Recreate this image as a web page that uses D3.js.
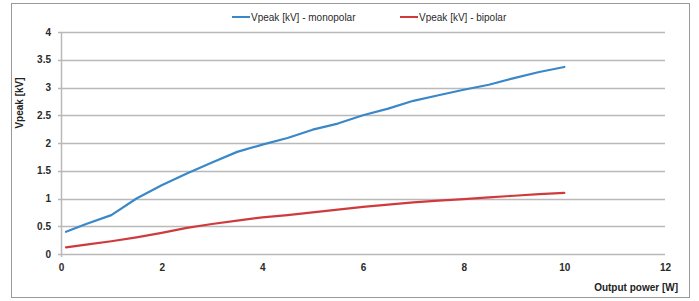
<!DOCTYPE html>
<html><head><meta charset="utf-8">
<script src="https://cdn.jsdelivr.net/npm/d3@7"></script>
<style>body{margin:0;background:#fff}svg{display:block}text{font-family:"Liberation Sans",Arial,sans-serif}</style>
</head><body><svg id="c" width="699" height="301"></svg>
<script>
const power = [0.1, 0.5, 1, 1.5, 2, 2.5, 3, 3.5, 4, 4.5, 5, 5.5, 6, 6.5, 7, 7.5, 8, 8.5, 9, 9.5, 10];
const monopolar = [0.40, 0.54, 0.70, 1.00, 1.24, 1.45, 1.65, 1.84, 1.97, 2.09, 2.24, 2.35, 2.50, 2.62, 2.76, 2.86, 2.96, 3.05, 3.17, 3.28, 3.37];
const bipolar = [0.12, 0.17, 0.23, 0.30, 0.38, 0.47, 0.54, 0.60, 0.66, 0.70, 0.75, 0.80, 0.85, 0.89, 0.93, 0.96, 0.99, 1.02, 1.05, 1.08, 1.10];
const xTicks = [0, 2, 4, 6, 8, 10, 12];
const yTicks = [0, 0.5, 1, 1.5, 2, 2.5, 3, 3.5, 4];
const seriesNames = ["Vpeak [kV] - monopolar", "Vpeak [kV] - bipolar"];
const colors = ["#3b88c9", "#cf3b3d"];

const svg = d3.select("#c");
const x = d3.scaleLinear().domain([0, 12]).range([61, 665]);
const y = d3.scaleLinear().domain([0, 4]).range([254, 32]);

svg.append("rect").attr("x", 11.5).attr("y", 3.5).attr("width", 678).attr("height", 294)
  .attr("fill", "#fff").attr("stroke", "#9a9a9a").attr("stroke-width", 1);

// grid
svg.append("g").selectAll("line").data(yTicks).join("line")
  .attr("x1", x(0) - 3).attr("x2", x(12))
  .attr("y1", d => Math.round(y(d)) + 0.5).attr("y2", d => Math.round(y(d)) + 0.5)
  .attr("stroke", "#b9b9b9").attr("stroke-width", 1.5);
svg.append("line").attr("x1", x(0) + 0.5).attr("x2", x(0) + 0.5).attr("y1", y(4)).attr("y2", y(0) + 3)
  .attr("stroke", "#b9b9b9").attr("stroke-width", 1.5);

// y axis
const ya = svg.append("g").attr("transform", `translate(${x(0)},0)`)
  .call(d3.axisLeft(y).tickValues(yTicks).tickSize(0).tickPadding(10).tickFormat(d3.format("")));
ya.select(".domain").remove();
ya.selectAll("text").attr("font-size", 10).attr("font-weight", "bold").attr("fill", "#2a2a2a").style("font-family", "Liberation Sans, Arial, sans-serif");

// x axis
const xa = svg.append("g").attr("transform", `translate(0,${y(0)})`)
  .call(d3.axisBottom(x).tickValues(xTicks).tickSize(0).tickPadding(10).tickFormat(d3.format("")));
xa.select(".domain").remove();
xa.selectAll("text").attr("font-size", 10).attr("font-weight", "bold").attr("fill", "#2a2a2a").style("font-family", "Liberation Sans, Arial, sans-serif");

// labels
svg.append("text").attr("transform", "translate(23,103) rotate(-90)").attr("text-anchor", "middle")
  .attr("font-size", 10).attr("font-weight", "bold").attr("fill", "#222").text("Vpeak [kV]");
svg.append("text").attr("x", 678).attr("y", 291).attr("text-anchor", "end")
  .attr("font-size", 10).attr("font-weight", "bold").attr("fill", "#222").text("Output power [W]");

// lines
const line = d3.line().x(d => x(d[0])).y(d => y(d[1])).curve(d3.curveLinear);
[monopolar, bipolar].forEach((s, i) => {
  svg.append("path").datum(power.map((p, j) => [p, s[j]]))
    .attr("d", line).attr("fill", "none").attr("stroke", colors[i]).attr("stroke-width", 2.2)
    .attr("stroke-linejoin", "round").attr("stroke-linecap", "round");
});

// legend
const legX = [232, 400];
seriesNames.forEach((n, i) => {
  svg.append("line").attr("x1", legX[i]).attr("x2", legX[i] + 18).attr("y1", 17).attr("y2", 17)
    .attr("stroke", colors[i]).attr("stroke-width", 2);
  svg.append("text").attr("x", legX[i] + 19).attr("y", 20.5).attr("font-size", 10)
    .attr("fill", "#2a2a2a").text(n);
});
</script></body></html>
